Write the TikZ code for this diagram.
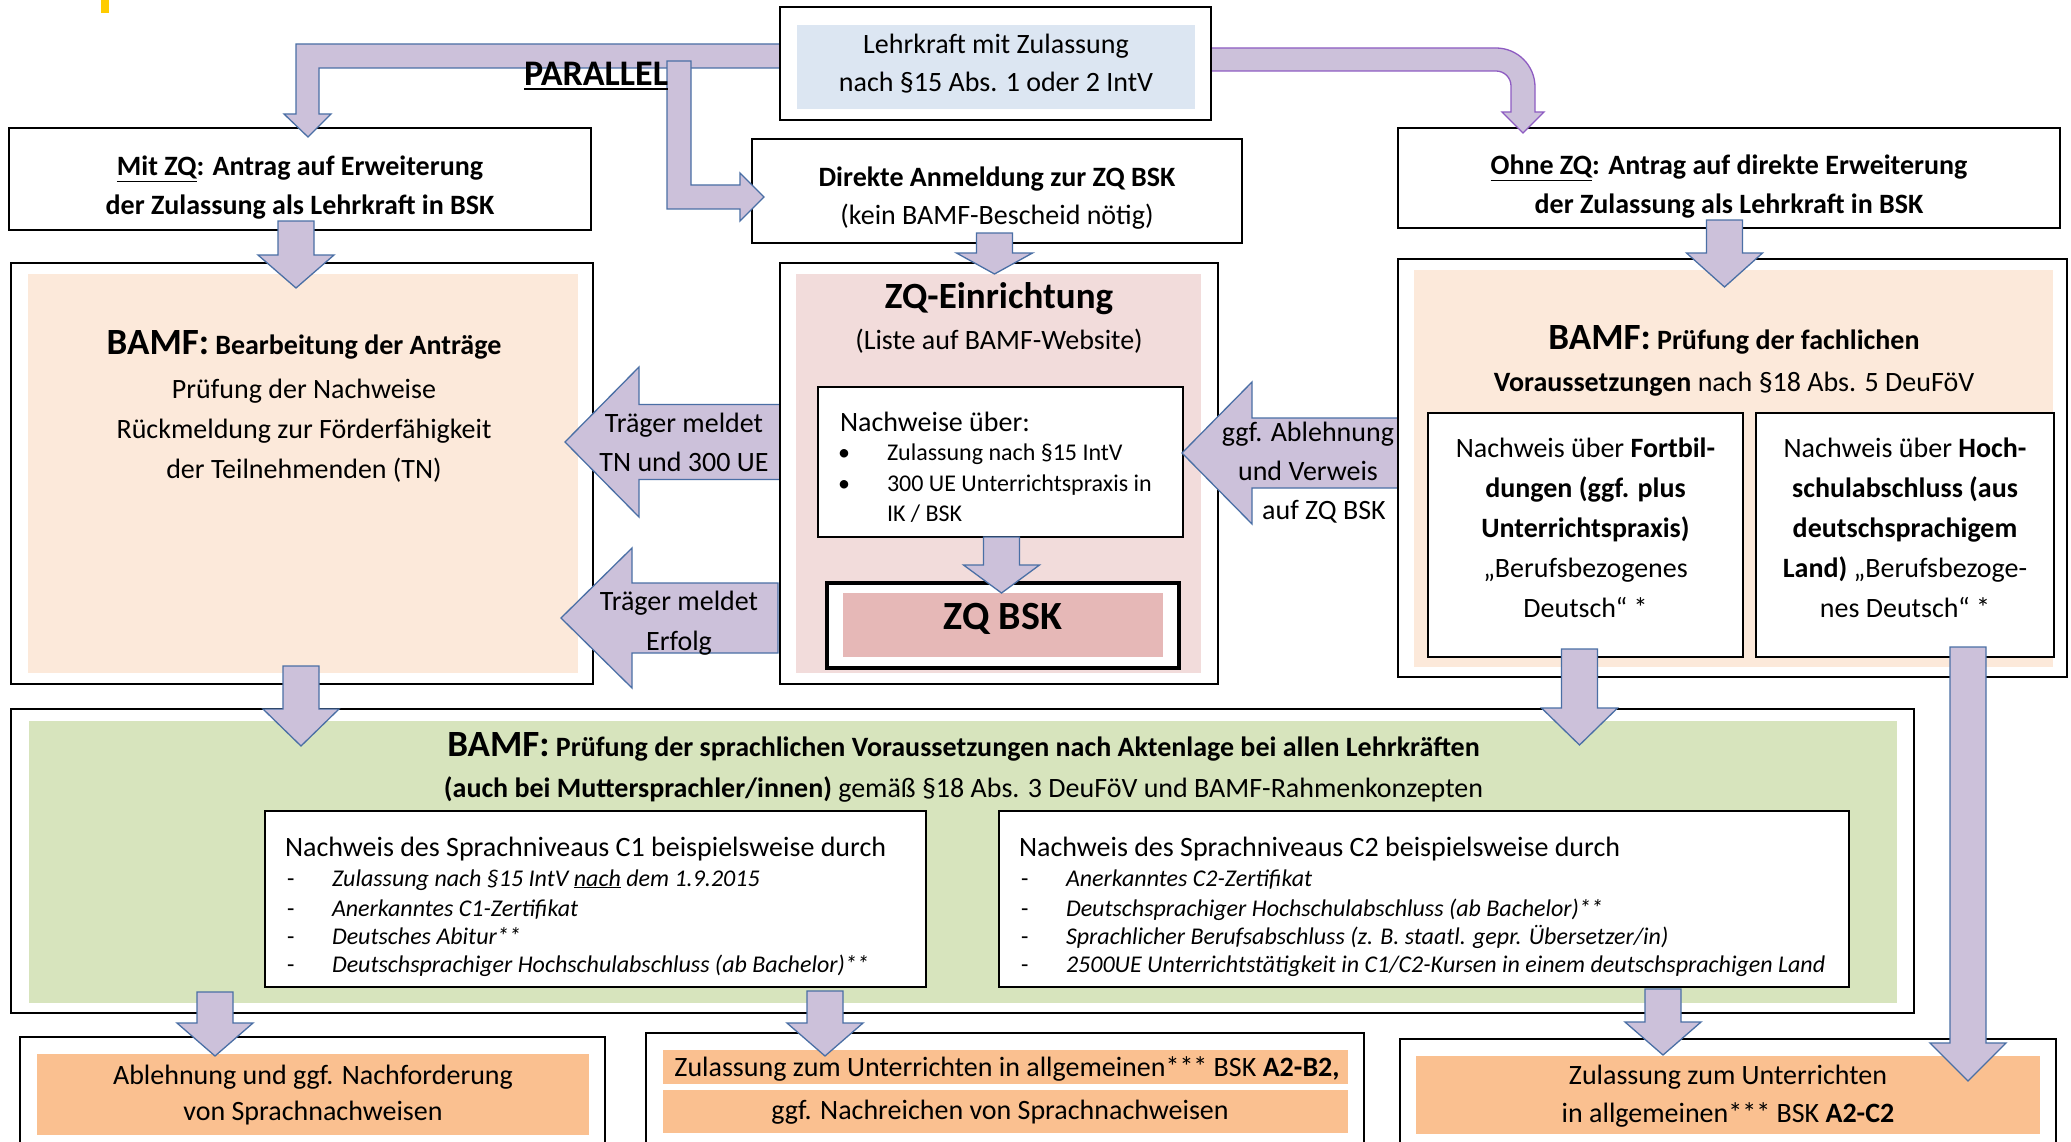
\documentclass[tikz,border=0pt]{standalone}
\usepackage{fontspec}
\setmainfont{Carlito}
\definecolor{arrfill}{HTML}{CCC1DA}
\definecolor{arrline}{HTML}{4A6FA5}
\definecolor{arrpurple}{HTML}{8E5CC2}
\definecolor{blueF}{HTML}{DCE6F2}
\definecolor{peach}{HTML}{FCE9DA}
\definecolor{rose}{HTML}{F2DCDB}
\definecolor{roseD}{HTML}{E6B8B7}
\definecolor{greenF}{HTML}{D7E4BD}
\definecolor{orangeF}{HTML}{FAC090}
\definecolor{gold}{HTML}{FFCC00}
\newcommand\RBox[6][bx]{\node[#1, minimum width={#5-#3}, minimum height={#6-#4}] (#2) at ({(#3+#5)/2},{(#4+#6)/2}) {};}
\newcommand\DArr[4]{\draw[barrow] ({#1-18},#2) -- ({#1-18},#3) -- ({#1-38},#3) -- (#1,#4) -- ({#1+38},#3) -- ({#1+18},#3) -- ({#1+18},#2) -- cycle;}
\newcommand\LArr[6]{\draw[barrow] (#1,#2) -- (#3,{#2-#6}) -- (#3,{#2-#5}) -- (#4,{#2-#5}) -- (#4,{#2+#5}) -- (#3,{#2+#5}) -- (#3,{#2+#6}) -- cycle;}
\begin{document}
\begin{tikzpicture}[x=1pt,y=-1pt,
  bx/.style={draw=black, line width=2.2pt, inner sep=0pt, outer sep=0pt},
  fl/.style={draw=none, inner sep=0pt, outer sep=0pt},
  barrow/.style={fill=arrfill, draw=arrline, line width=1.3pt, line join=miter},
  parrow/.style={fill=arrfill, draw=arrpurple, line width=1.3pt, line join=miter},
  tx/.style={inner sep=0pt, outer sep=0pt, align=center, font=\fontsize{28}{39}\selectfont},
  tb/.style={inner sep=0pt, outer sep=0pt, anchor=base, font=\fontsize{28}{34}\selectfont},
  tl/.style={inner sep=0pt, outer sep=0pt, anchor=base west, font=\fontsize{28}{34}\selectfont},
  sm/.style={inner sep=0pt, outer sep=0pt, anchor=base west, font=\fontsize{24}{29}\selectfont},
  it/.style={inner sep=0pt, outer sep=0pt, anchor=base west, font=\fontsize{24}{29}\selectfont\itshape},
]
\useasboundingbox (0,0) rectangle (2071,1142);
\clip (0,0) rectangle (2071,1142);
\fill[white] (0,0) rectangle (2071,1142);
\fill[gold] (101,0) rectangle (109,13);

% second row boxes
\RBox{mitzq}{9}{128}{591}{230}
\RBox{dir}{752}{139}{1242}{243}
\RBox{ohne}{1398}{128}{2060}{228}

% bent arrows
\draw[barrow] (780,44) -- (296,44) -- (296,114) -- (284,114) -- (308,137) -- (331,114) -- (319,114) -- (319,68) -- (780,68) -- cycle;
\draw[barrow] (667,61) -- (667,209) -- (740,209) -- (740,221) -- (764,197) -- (740,173) -- (740,185) -- (691,185) -- (691,61) -- cycle;
\draw[parrow] (1211,48) -- (1496,48) .. controls (1517.5,48) and (1535,65.5) .. (1535,87) -- (1535,112) -- (1544,112) -- (1523,133) -- (1502,112) -- (1511,112) -- (1511,86) .. controls (1511,77.7) and (1504.3,71) .. (1496,71) -- (1211,71) -- cycle;

% top box
\RBox[bx,fill=white]{top}{780}{7}{1211}{120}
\RBox[fl,fill=blueF]{topf}{797}{25}{1195}{109}

% BAMF left
\RBox{bamfL}{11}{263}{593}{684}
\RBox[fl,fill=peach]{bamfLf}{28}{274}{578}{673}
\LArr{565}{442}{639}{780}{37.5}{75}
\LArr{561}{618}{632}{778}{35}{70}

% ZQ-Einrichtung
\RBox{zqe}{780}{263}{1218}{684}
\RBox[fl,fill=rose]{zqef}{796}{274}{1201}{673}
\RBox[bx,fill=white]{nw}{818}{387}{1183}{537}
\RBox[bx,fill=white,line width=3.5pt]{zqbsk}{827}{583}{1179}{668}
\RBox[fl,fill=roseD]{zqbskf}{843}{593}{1163}{657}
\LArr{1182}{453}{1252}{1398}{35}{71}

% BAMF right
\RBox{bamfR}{1398}{259}{2067}{677}
\RBox[fl,fill=peach]{bamfRf}{1414}{270}{2053}{667}
\RBox[bx,fill=white]{fb}{1428}{413}{1743}{657}
\RBox[bx,fill=white]{hs}{1756}{413}{2054}{657}

% green
\RBox{green}{11}{709}{1914}{1013}
\RBox[fl,fill=greenF]{greenf}{29}{721}{1897}{1003}
\RBox[bx,fill=white]{c1}{265}{811}{926}{987}
\RBox[bx,fill=white]{c2}{999}{811}{1849}{987}

% bottom
\RBox{abl}{20}{1037}{605}{1175}
\RBox[fl,fill=orangeF]{ablf}{37}{1054}{589}{1135}
\RBox{ab2}{646}{1033}{1364}{1175}
\RBox[fl,fill=orangeF]{ab2fa}{663}{1050}{1348}{1084}
\RBox[fl,fill=orangeF]{ab2fb}{663}{1090}{1348}{1133}
\RBox{ac2}{1400}{1039}{2056}{1175}
\RBox[fl,fill=orangeF]{ac2f}{1416}{1056}{2040}{1134}

% down arrows
\DArr{296}{221}{255}{288}
\DArr{994.5}{233}{253}{274}
\DArr{1724.5}{220}{253}{287}
\DArr{1001.5}{537}{565}{593}
\DArr{301}{666}{709}{746}
\DArr{1579.5}{649}{708}{745}
\DArr{1968}{647}{1043}{1081}
\DArr{215}{992}{1023}{1056}
\DArr{825}{991}{1023}{1056}
\DArr{1663}{989}{1022}{1055}

% texts
\node[tx, font=\fontsize{28}{38}\selectfont] (toptx) at (996,64) {Lehrkraft mit Zulassung\\nach §15 Abs. 1 oder 2 IntV};
\node[tb, font=\bfseries\fontsize{36}{40}\selectfont] (par) at (596,86) {PARALLEL};
\draw[line width=2.6pt] ([yshift=-3pt]par.base west) -- ([yshift=-3pt]par.base east);
\node[tx, font=\bfseries\fontsize{28}{39}\selectfont] (mitzqtx) at (300,188) {\underline{Mit ZQ}: Antrag auf Erweiterung\\der Zulassung als Lehrkraft in BSK};
\node[tx, font=\fontsize{28}{38}\selectfont] (dirtx) at (997,198) {\textbf{Direkte Anmeldung zur ZQ BSK}\\(kein BAMF-Bescheid nötig)};
\node[tx, font=\bfseries\fontsize{28}{39}\selectfont] (ohnetx) at (1729,187) {\underline{Ohne ZQ}: Antrag auf direkte Erweiterung\\der Zulassung als Lehrkraft in BSK};

\node[tb, font=\bfseries\fontsize{28}{34}\selectfont] (bamfLh) at (304,354) {{\fontsize{37}{44}\selectfont BAMF:} Bearbeitung der Anträge};
\node[tx, font=\fontsize{28}{40}\selectfont] (bamfLb) at (304,431) {Prüfung der Nachweise\\Rückmeldung zur Förderfähigkeit\\der Teilnehmenden (TN)};

\node[tx] (tra) at (684,442) {Träger meldet\\TN und 300 UE};
\node[tx, font=\fontsize{28}{40}\selectfont] (trb) at (679,623) {Träger meldet\\Erfolg};
\node[tx] (ggf) at (1308,451) {ggf. Ablehnung\\und Verweis};
\node[tb] (ggfc) at (1324,519) {auf ZQ BSK};

\node[tb, font=\bfseries\fontsize{37}{44}\selectfont] (zqeh) at (999,308) {ZQ-Einrichtung};
\node[tb] (zqes) at (999,349) {(Liste auf BAMF-Website)};
\node[tl] (nwh) at (840,431) {Nachweise über:};
\node[sm, anchor=base] (bua) at (844,460) {•};
\node[sm, anchor=base] (bub) at (844,491) {•};
\node[sm] (nwa) at (887,460) {Zulassung nach §15 IntV};
\node[sm] (nwb) at (887,491) {300 UE Unterrichtspraxis in};
\node[sm] (nwc) at (887,521) {IK / BSK};
\node[tb, font=\bfseries\fontsize{40}{48}\selectfont] (zqbsktx) at (1003,629) {ZQ BSK};

\node[tb, font=\bfseries\fontsize{28}{34}\selectfont] (bamfRh) at (1734,349) {{\fontsize{37}{44}\selectfont BAMF:} Prüfung der fachlichen};
\node[tb] (bamfRs) at (1734,391) {\textbf{Voraussetzungen} nach §18 Abs. 5 DeuFöV};
\node[tx, font=\fontsize{28}{40}\selectfont] (fbtx) at (1585.5,528) {Nachweis über \textbf{Fortbil-}\\\textbf{dungen (ggf. plus}\\\textbf{Unterrichtspraxis)}\\„Berufsbezogenes\\Deutsch“ *};
\node[tx, font=\fontsize{28}{40}\selectfont] (hstx) at (1905,528) {Nachweis über \textbf{Hoch-}\\\textbf{schulabschluss (aus}\\\textbf{deutschsprachigem}\\\textbf{Land)} „Berufsbezoge-\\nes Deutsch“ *};

\node[tb, font=\bfseries\fontsize{28}{34}\selectfont] (gha) at (963.5,756) {{\fontsize{37}{44}\selectfont BAMF:} Prüfung der sprachlichen Voraussetzungen nach Aktenlage bei allen Lehrkräften};
\node[tb] (ghb) at (963.5,797) {\textbf{(auch bei Muttersprachler/innen)} gemäß §18 Abs. 3 DeuFöV und BAMF-Rahmenkonzepten};

\node[tl] (cah) at (285,856) {Nachweis des Sprachniveaus C1 beispielsweise durch};
\node[tl] (cbh) at (1019,856) {Nachweis des Sprachniveaus C2 beispielsweise durch};
\foreach \yy [count=\i] in {886,916,944,972} {
  \node[sm] (cad\i) at (287,\yy) {-};
  \node[sm] (cbd\i) at (1021,\yy) {-};
}
\node[it] (caa) at (332,886) {Zulassung nach §15 IntV \underline{nach} dem 1.9.2015};
\node[it] (cab) at (332,916) {Anerkanntes C1-Zertifikat};
\node[it] (cac) at (332,944) {Deutsches Abitur**};
\node[it] (cad) at (332,972) {Deutschsprachiger Hochschulabschluss (ab Bachelor)**};
\node[it] (cba) at (1066,886) {Anerkanntes C2-Zertifikat};
\node[it] (cbb) at (1066,916) {Deutschsprachiger Hochschulabschluss (ab Bachelor)**};
\node[it] (cbc) at (1066,944) {Sprachlicher Berufsabschluss (z. B. staatl. gepr. Übersetzer/in)};
\node[it] (cbd) at (1066,972) {2500UE Unterrichtstätigkeit in C1/C2-Kursen in einem deutschsprachigen Land};

\node[tx, font=\fontsize{28}{36}\selectfont] (abltx) at (313,1095) {Ablehnung und ggf. Nachforderung\\von Sprachnachweisen};
\node[tb] (abta) at (1007,1076) {Zulassung zum Unterrichten in allgemeinen*** BSK \textbf{A2-B2,}};
\node[tb] (abtb) at (1000,1119) {ggf. Nachreichen von Sprachnachweisen};
\node[tx, font=\fontsize{28}{38}\selectfont] (ac2tx) at (1728,1096) {Zulassung zum Unterrichten\\in allgemeinen*** BSK \textbf{A2-C2}};
\end{tikzpicture}
\end{document}
